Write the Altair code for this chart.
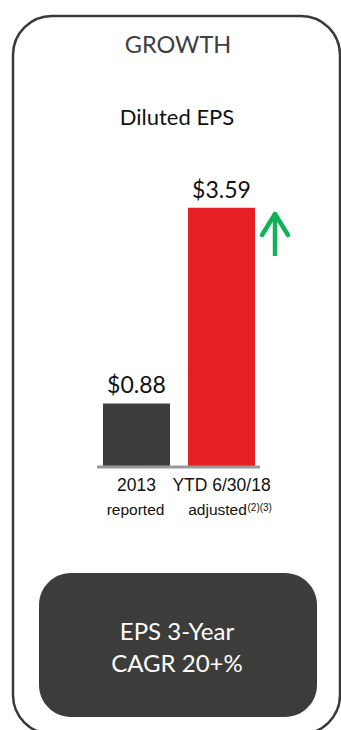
import altair as alt
import pandas as pd

# ---- data ----
categories = ["2013", "YTD 6/30/18"]
sub_labels = ["reported", "adjusted"]
eps_values = [0.88, 3.59]
value_labels = ["$0.88", "$3.59"]
bar_colors = ["#3c3d3b", "#e51f24"]
footnote_cat = ["YTD 6/30/18"]
footnote_text = ["(2)(3)"]
panel_title = ["GROWTH"]
chart_title = ["Diluted EPS"]
box_lines = ["EPS 3-Year", "CAGR 20+%"]

bars_df = pd.DataFrame({
    "cat": categories,
    "sub": sub_labels,
    "eps": eps_values,
    "label": value_labels,
    "color": bar_colors,
})
foot_df = pd.DataFrame({"cat": footnote_cat, "note": footnote_text})
one = pd.DataFrame({"a": [0]})

MAIN_FONT = "Lato"
AX_FONT = "Liberation Sans"

xscale = alt.Scale(domain=categories, range=[103, 255], paddingInner=0.2118, paddingOuter=0)
yscale = alt.Scale(domain=[0, 4], range=[467, 467 - 4 * 72.2])
X = alt.X("cat:N", scale=xscale, axis=None, sort=categories)
Y = alt.Y("eps:Q", scale=yscale, axis=None)

# outer rounded panel
outer = alt.Chart(one).mark_rect(
    cornerRadius=39, fill="transparent", stroke="#3a3a3a", strokeWidth=2.5
).encode(x=alt.value(13), x2=alt.value(340), y=alt.value(16), y2=alt.value(734))

# inner dark box
inner = alt.Chart(one).mark_rect(cornerRadius=32, fill="#3c3d3b").encode(
    x=alt.value(39), x2=alt.value(317), y=alt.value(573), y2=alt.value(717)
)

title = alt.Chart(pd.DataFrame({"t": panel_title})).mark_text(
    font=MAIN_FONT, fontSize=23.5, color="#404040", align="center", baseline="alphabetic"
).encode(x=alt.value(178), y=alt.value(53), text="t:N")

subtitle = alt.Chart(pd.DataFrame({"t": chart_title})).mark_text(
    font=MAIN_FONT, fontSize=22, color="#111111", align="center", baseline="alphabetic"
).encode(x=alt.value(177), y=alt.value(125), text="t:N")

bars = alt.Chart(bars_df).mark_bar().encode(
    x=X,
    y=Y,
    color=alt.Color("color:N", scale=None),
)

baseline = alt.Chart(one).mark_rule(color="#999999", strokeWidth=3).encode(
    x=alt.value(97), x2=alt.value(260), y=alt.value(467)
)

value_text = alt.Chart(bars_df).mark_text(
    font=MAIN_FONT, fontSize=23, color="#111111", baseline="alphabetic", dy=-10
).encode(x=X, y=Y, text="label:N")

cat_text = alt.Chart(bars_df).mark_text(
    font=AX_FONT, fontSize=17.5, color="#111111", baseline="alphabetic"
).encode(x=X, y=alt.value(491), text="cat:N")

sub_text1 = alt.Chart(bars_df).transform_filter(alt.datum.cat == categories[0]).mark_text(
    font=AX_FONT, fontSize=15.5, color="#111111", baseline="alphabetic", dx=-1
).encode(x=X, y=alt.value(515), text="sub:N")

sub_text2 = alt.Chart(bars_df).transform_filter(alt.datum.cat == categories[1]).mark_text(
    font=AX_FONT, fontSize=15.5, color="#111111", baseline="alphabetic", dx=-4
).encode(x=X, y=alt.value(515), text="sub:N")

foot = alt.Chart(foot_df).mark_text(
    font=AX_FONT, fontSize=10, color="#111111", baseline="alphabetic", align="left", dx=26
).encode(x=X, y=alt.value(511), text="note:N")

# green up arrow
GREEN = "#10b35a"
arrow_shaft = alt.Chart(one).mark_rule(color=GREEN, strokeWidth=4.5).encode(
    x=alt.value(275), y=alt.value(215), y2=alt.value(256)
)
arrow_left = alt.Chart(one).mark_rule(color=GREEN, strokeWidth=4.5, strokeCap="round").encode(
    x=alt.value(262), y=alt.value(235), x2=alt.value(275), y2=alt.value(214)
)
arrow_right = alt.Chart(one).mark_rule(color=GREEN, strokeWidth=4.5, strokeCap="round").encode(
    x=alt.value(288), y=alt.value(235), x2=alt.value(275), y2=alt.value(214)
)

box_t1 = alt.Chart(pd.DataFrame({"t": [box_lines[0]]})).mark_text(
    font=MAIN_FONT, fontSize=24, color="white", baseline="alphabetic"
).encode(x=alt.value(177), y=alt.value(640), text="t:N")
box_t2 = alt.Chart(pd.DataFrame({"t": [box_lines[1]]})).mark_text(
    font=MAIN_FONT, fontSize=24, color="white", baseline="alphabetic"
).encode(x=alt.value(177), y=alt.value(672), text="t:N")

chart = alt.layer(
    outer, inner, title, subtitle, bars, baseline, value_text, cat_text,
    sub_text1, sub_text2, foot, arrow_shaft, arrow_left, arrow_right, box_t1, box_t2
).properties(
    width=341, height=730, padding=0, autosize="none", background="white"
).configure_view(stroke=None)

chart.save("out.html", embed_options={"renderer": "svg", "actions": False})
